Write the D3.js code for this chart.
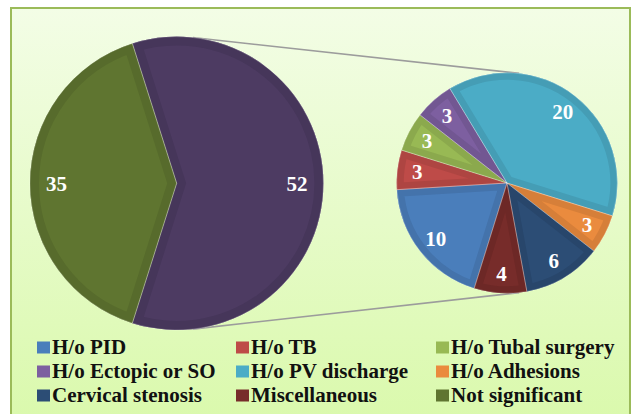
<!DOCTYPE html>
<html>
<head>
<meta charset="utf-8">
<script src="https://cdn.jsdelivr.net/npm/d3@7/dist/d3.min.js"></script>
<style>
  html, body { margin: 0; padding: 0; background: #ffffff; }
  svg { display: block; }
</style>
</head>
<body>
<svg id="chart" width="631" height="414"></svg>
<script>
// ---- data ----
const categories = ["H/o PID", "H/o TB", "H/o Tubal surgery", "H/o Ectopic or SO",
                    "H/o PV discharge", "H/o Adhesions", "Cervical stenosis", "Miscellaneous"];
const values = [10, 3, 3, 3, 20, 3, 6, 4];
const colors = ["#4A7EBB", "#BE4B48", "#98B954", "#7D5FA0",
                "#4BACC6", "#EA8B3E", "#2C4D75", "#772C2A"];
const mainLabel = "Not significant";
const mainValue = 35;
const mainColor = "#5F7530";
const otherColor = "#4D3B62";

const legendItems = categories.concat([mainLabel]);
const legendColors = colors.concat([mainColor]);

const FONT = "'Liberation Serif', 'Times New Roman', Times, serif";

// ---- layout ----
const svg = d3.select("#chart");
const deg = Math.PI / 180;

const defs = svg.append("defs");
const grad = defs.append("linearGradient").attr("id", "bg")
  .attr("x1", 0).attr("y1", 0).attr("x2", 0).attr("y2", 1);
grad.append("stop").attr("offset", "0%").attr("stop-color", "#F3FDE6");
grad.append("stop").attr("offset", "100%").attr("stop-color", "#D9F9AA");

svg.append("rect").attr("x", 11).attr("y", 8).attr("width", 619).attr("height", 430)
  .attr("fill", "url(#bg)").attr("stroke", "#9BBB59").attr("stroke-width", 2);

const c1 = { x: 176.7, y: 183.3, r: 146.7 };
const c2 = { x: 507, y: 183, r: 110.3 };

// connector lines (external tangents)
const dx = c2.x - c1.x;
const th = Math.asin((c1.r - c2.r) / dx);
[-1, 1].forEach(s => {
  const x1 = c1.x + c1.r * Math.sin(th), y1 = c1.y + s * c1.r * Math.cos(th);
  const x2 = c2.x + c2.r * Math.sin(th), y2 = c2.y + s * c2.r * Math.cos(th);
  svg.append("line").attr("x1", x1).attr("y1", y1).attr("x2", x2).attr("y2", y2)
    .attr("stroke", "#9C9C9C").attr("stroke-width", 1.6);
});

let clipId = 0;
function drawPie(center, data, colorFn, startAngle, band) {
  const pie = d3.pie().sort(null).value(d => d.value)
    .startAngle(startAngle).endAngle(startAngle + 2 * Math.PI);
  const arc = d3.arc().innerRadius(0).outerRadius(center.r);
  const g = svg.append("g").attr("transform", `translate(${center.x},${center.y})`);
  const arcs = pie(data);
  arcs.forEach((a, i) => {
    const id = "clip" + (clipId++);
    const p = arc(a);
    defs.append("clipPath").attr("id", id).append("path").attr("d", p);
    const col = colorFn(a.data, i);
    g.append("path").attr("d", p).attr("fill", col);
    g.append("path").attr("d", p)
      .attr("fill", "none")
      .attr("stroke", d3.color(col).darker(0.25))
      .attr("stroke-width", band * 2)
      .attr("clip-path", `url(#${id})`);
  });
  arcs.forEach((a) => {
    g.append("path").attr("d", arc(a)).attr("fill", "none")
      .attr("stroke", "rgba(255,255,255,0.3)").attr("stroke-width", 0.8);
  });
  const lab = d3.arc().innerRadius(center.r * 0.82).outerRadius(center.r * 0.82);
  arcs.forEach(a => {
    const [lx, ly] = lab.centroid(a);
    g.append("text").attr("x", lx).attr("y", ly).attr("dy", "0.35em")
      .attr("text-anchor", "middle")
      .attr("font-family", FONT)
      .attr("font-weight", "bold").attr("font-size", 21)
      .attr("fill", "#ffffff")
      .text(a.data.value);
  });
}

const otherTotal = d3.sum(values);
const mainData = [{ name: "Other", value: otherTotal }, { name: mainLabel, value: mainValue }];
const otherSpan = otherTotal / (otherTotal + mainValue) * 2 * Math.PI;
drawPie(c1, mainData, (d) => d.name === "Other" ? otherColor : mainColor,
        Math.PI / 2 - otherSpan / 2, 9);

const subData = categories.map((c, i) => ({ name: c, value: values[i] }));
drawPie(c2, subData, (d, i) => colors[i], -162.7 * deg, 7);

// ---- legend ----
const legX = [37, 236, 436];
const legY = [354, 378, 402];
const lg = svg.append("g");
legendItems.forEach((name, i) => {
  const col = i % 3, row = Math.floor(i / 3);
  lg.append("rect").attr("x", legX[col]).attr("y", legY[row] - 12.5)
    .attr("width", 13).attr("height", 12).attr("fill", legendColors[i]);
  lg.append("text").attr("x", legX[col] + 15).attr("y", legY[row])
    .attr("font-family", FONT)
    .attr("font-weight", "bold").attr("font-size", 21)
    .attr("fill", "#111111")
    .text(name);
});
</script>
</body>
</html>
